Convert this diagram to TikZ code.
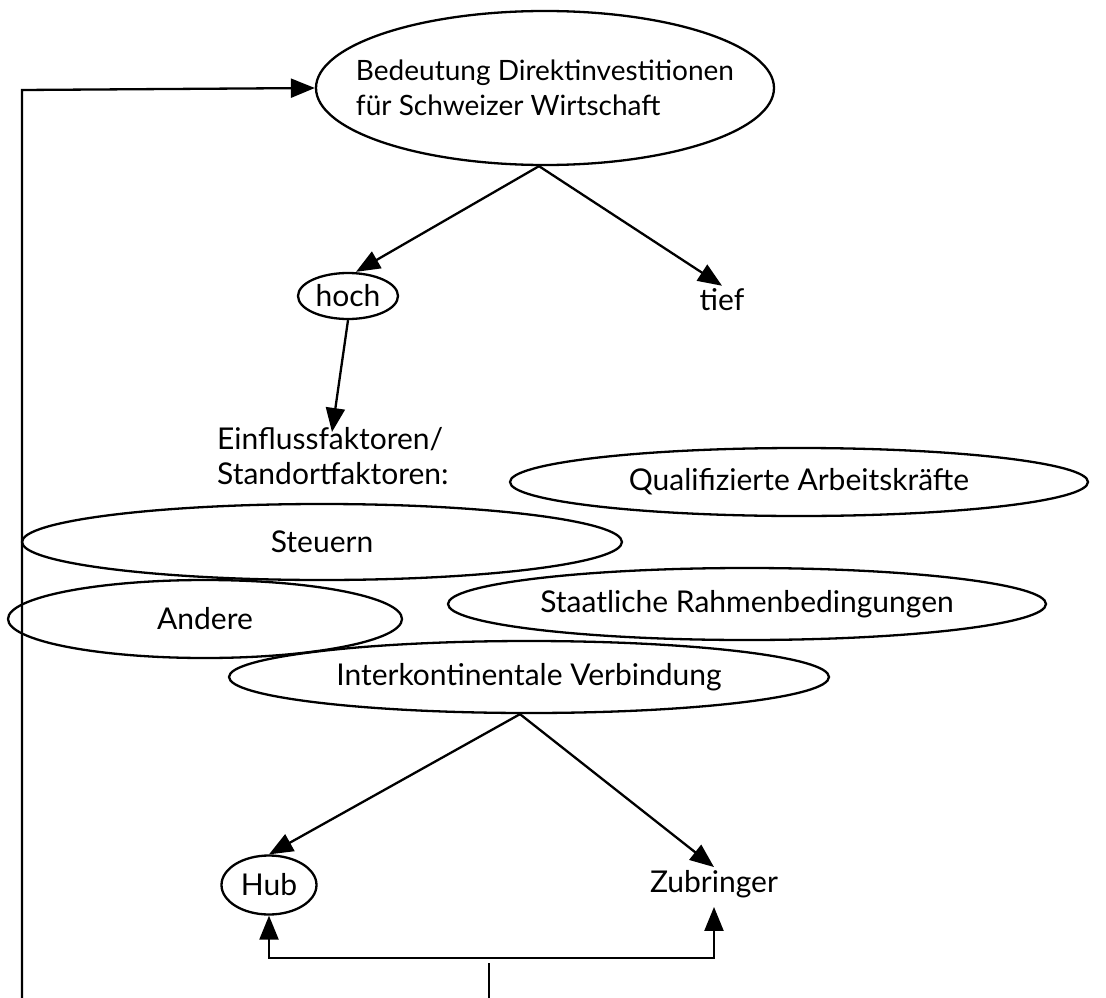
\documentclass[tikz,border=0pt]{standalone}
\usepackage{fontspec}
\setmainfont{Lato}
\usetikzlibrary{shapes.geometric,arrows.meta}
\begin{document}
\begin{tikzpicture}[x=1pt,y=-1pt,
  line width=2.3pt,
  every node/.style={font=\fontsize{30}{35}\selectfont},
  oval/.style={draw,ellipse,inner sep=0pt},
  arr/.style={-{Triangle[length=24pt,width=19pt]}}]
\useasboundingbox (0,0) rectangle (1106,998);
\node[oval,inner xsep=-45pt,minimum width=458,minimum height=154,align=left,
  font=\fontsize{28}{35}\selectfont] (top) at (545,88)
  {Bedeutung Direktinvestitionen\\für Schweizer Wirtschaft};
\node[oval,minimum width=100,minimum height=46] (hoch) at (348,296) {hoch};
\node[inner sep=2pt] (tief) at (722,300) {tief};
\node[align=left,anchor=north west,inner sep=0pt] (einfl) at (216,426)
  {Einflussfaktoren/\\Standortfaktoren:};
\node[oval,minimum width=578,minimum height=68] (qual) at (799,482) {Qualifizierte Arbeitskräfte};
\node[oval,minimum width=600,minimum height=76] (steu) at (322,542) {Steuern};
\node[oval,minimum width=394,minimum height=78] (andr) at (205,619) {Andere};
\node[oval,minimum width=598,minimum height=72] (staat) at (747,604) {Staatliche Rahmenbedingungen};
\node[oval,minimum width=600,minimum height=72] (inter) at (529,677) {Interkontinentale Verbindung};
\node[oval,minimum width=95,minimum height=59] (hub) at (269,885) {Hub};
\node[inner sep=2pt] (zub) at (714,884) {Zubringer};
\coordinate (lb) at (22,998);
\coordinate (lt) at (22,90);
\coordinate (j) at (489,958);
\coordinate (v1) at (489,963);
\coordinate (v2) at (489,998);
\draw[arr] (lb) -- (lt) -- (top.west);
\draw[arr] ([xshift=-6]top.south) -- ([xshift=8]hoch.north);
\draw[arr] ([xshift=-6]top.south) -- (tief.north);
\draw[arr] (hoch.south) -- ([xshift=116,yshift=-6]einfl.north west);
\draw[arr] ([xshift=-9]inter.south) -- (hub.north);
\draw[arr] ([xshift=-9]inter.south) -- (zub.north);
\draw[arr] (j) -| (hub.south);
\draw[arr] (j) -| ([yshift=-6]zub.south);
\draw (v1) -- (v2);
\end{tikzpicture}
\end{document}
